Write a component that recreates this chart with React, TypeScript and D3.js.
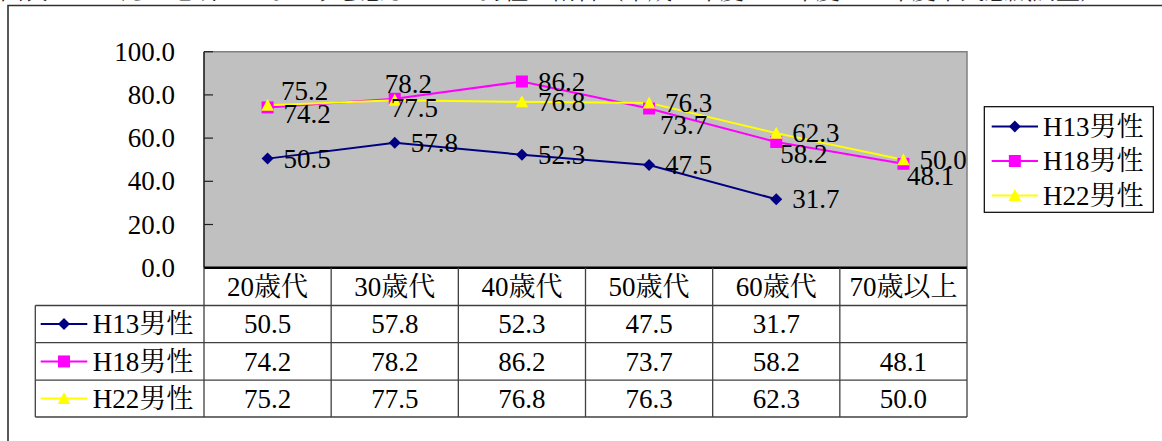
import React from "react";
import * as d3 from "d3";

// Age groups and survey results (% of men)
const categories = ["20歳代", "30歳代", "40歳代", "50歳代", "60歳代", "70歳以上"];
const seriesNames = ["H13男性", "H18男性", "H22男性"];
const h13Values: (number | null)[] = [50.5, 57.8, 52.3, 47.5, 31.7, null];
const h18Values: (number | null)[] = [74.2, 78.2, 86.2, 73.7, 58.2, 48.1];
const h22Values: (number | null)[] = [75.2, 77.5, 76.8, 76.3, 62.3, 50.0];
const yTickValues = [0, 20, 40, 60, 80, 100];
const titleText = "図表７　ふだん地域のつながりを感じている男性の割合（平成13年度・18年度・22年度市民意識調査）";

// Per-point label nudges [dx, dy] where labels would collide
const h13LabelOffsets = [[16, 0], [16, 0], [16, 0], [16, 0], [16, 0], [16, 0]];
const h18LabelOffsets = [[16, 6.5], [-10, -14.5], [16, 0], [11, 16], [4, 12], [3.6, 12]];
const h22LabelOffsets = [[13.5, -14], [-4, 8], [16, 0], [16, 0], [16, 0], [16, 0]];

const W = 1162;
const H = 441;
const plot = { left: 204, right: 967, top: 51.7, bottom: 267.7 };
const table = { left: 35.3, headerTop: 267.7, rowTops: [305.5, 342.7, 380.2], bottom: 417 };
const FONT = '"Liberation Serif", "Noto Serif CJK JP", "Noto Sans CJK JP", serif';
const FS = 27;
const txt: React.CSSProperties = { fontFamily: FONT, fontSize: FS };

type MarkerKind = "diamond" | "square" | "triangle";
const series = [
  { name: seriesNames[0], values: h13Values, offsets: h13LabelOffsets, color: "#000080", marker: "diamond" as MarkerKind },
  { name: seriesNames[1], values: h18Values, offsets: h18LabelOffsets, color: "#FF00FF", marker: "square" as MarkerKind },
  { name: seriesNames[2], values: h22Values, offsets: h22LabelOffsets, color: "#FFFF00", marker: "triangle" as MarkerKind },
];

function markerPath(kind: MarkerKind): string {
  if (kind === "diamond") return "M0,-6L6,0L0,6L-6,0Z";
  if (kind === "square") return "M-6,-6H6V6H-6Z";
  return "M0,-6.5L6.3,5.5H-6.3Z";
}

function Marker({ kind, color, x, y }: { kind: MarkerKind; color: string; x: number; y: number }) {
  return <path d={markerPath(kind)} transform={`translate(${x},${y})`} fill={color} stroke="none" />;
}

function LegendKey({ s, x0, x1, y }: { s: (typeof series)[number]; x0: number; x1: number; y: number }) {
  return (
    <g>
      <line x1={x0} x2={x1} y1={y} y2={y} stroke={s.color} strokeWidth={2} />
      <Marker kind={s.marker} color={s.color} x={(x0 + x1) / 2} y={y} />
    </g>
  );
}

export default function App() {
  const x = d3.scaleBand<string>().domain(categories).range([plot.left, plot.right]).padding(0);
  const y = d3.scaleLinear().domain([0, 100]).range([plot.bottom, plot.top]);
  const cx = (c: string) => (x(c) ?? 0) + x.bandwidth() / 2;
  const fmt = d3.format(".1f");

  const line = d3
    .line<number | null>()
    .defined((d) => d != null)
    .x((_, i) => cx(categories[i]))
    .y((d) => y(d as number));

  const rowEdges = [...table.rowTops, table.bottom];
  const gridColor = "#404040";

  return (
    <svg width={W} height={H} viewBox={`0 0 ${W} ${H}`} style={{ position: "absolute", left: 0, top: 0, background: "#fff" }}>
      {/* cut-off heading */}
      <text x={0} y={-1} style={{ fontFamily: FONT, fontSize: 24 }} fill="#222">{titleText}</text>

      {/* outer frame */}
      <path d={`M8,${H + 2}V5.5H${W + 2}`} fill="none" stroke="#303030" strokeWidth={1.6} />

      {/* plot area */}
      <rect x={plot.left} y={plot.top} width={plot.right - plot.left} height={plot.bottom - plot.top} fill="#C0C0C0" />
      <path d={`M${plot.left},${plot.top}H${plot.right}V${plot.bottom}`} fill="none" stroke="#808080" strokeWidth={1.5} />
      <line x1={plot.left} x2={plot.left} y1={plot.top} y2={plot.bottom} stroke="#202020" strokeWidth={1.6} />

      {/* y axis ticks and labels */}
      {yTickValues.map((t) => (
        <g key={t}>
          <line x1={plot.left} x2={plot.left + 9} y1={y(t)} y2={y(t)} stroke="#202020" strokeWidth={1.2} />
          <text x={175} y={y(t)} dy="0.34em" textAnchor="end" fill="#000" style={txt}>
            {fmt(t)}
          </text>
        </g>
      ))}

      {/* series lines */}
      {series.map((s) => (
        <path key={s.name} d={line(s.values) ?? ""} fill="none" stroke={s.color} strokeWidth={2} />
      ))}
      {/* markers */}
      {series.map((s) =>
        s.values.map((v, i) =>
          v == null ? null : <Marker key={`${s.name}-${i}`} kind={s.marker} color={s.color} x={cx(categories[i])} y={y(v)} />
        )
      )}
      {/* value labels */}
      {series.map((s) =>
        s.values.map((v, i) =>
          v == null ? null : (
            <text
              key={`lbl-${s.name}-${i}`}
              x={cx(categories[i]) + s.offsets[i][0]}
              y={y(v) + s.offsets[i][1]}
              dy="0.34em"
              fill="#000"
              style={txt}
            >
              {fmt(v)}
            </text>
          )
        )
      )}

      {/* bottom axis */}
      <line x1={plot.left} x2={plot.right} y1={plot.bottom} y2={plot.bottom} stroke="#000" strokeWidth={2.4} />

      {/* data table */}
      <g stroke={gridColor} strokeWidth={1.3} fill="none">
        {rowEdges.map((ry, i) => (
          <line key={`h${i}`} x1={table.left} x2={plot.right} y1={ry} y2={ry} />
        ))}
        <line x1={table.left} x2={table.left} y1={table.rowTops[0]} y2={table.bottom} />
        {categories.map((c) => (
          <line key={`v${c}`} x1={x(c) ?? 0} x2={x(c) ?? 0} y1={table.headerTop} y2={table.bottom} />
        ))}
        <line x1={plot.right} x2={plot.right} y1={table.headerTop} y2={table.bottom} />
      </g>
      {categories.map((c) => (
        <text key={`hd${c}`} x={cx(c)} y={(table.headerTop + table.rowTops[0]) / 2} dy="0.34em" textAnchor="middle" fill="#000" style={txt}>
          {c}
        </text>
      ))}
      {series.map((s, r) => {
        const top = rowEdges[r];
        const mid = (top + rowEdges[r + 1]) / 2;
        return (
          <g key={`row-${s.name}`}>
            <LegendKey s={s} x0={40.7} x1={87.3} y={mid} />
            <text x={92.7} y={mid} dy="0.34em" fill="#000" style={txt}>{s.name}</text>
            {s.values.map((v, i) =>
              v == null ? null : (
                <text key={i} x={cx(categories[i])} y={mid} dy="0.34em" textAnchor="middle" fill="#000" style={txt}>
                  {fmt(v)}
                </text>
              )
            )}
          </g>
        );
      })}

      {/* legend */}
      <rect x={984.3} y={106.7} width={169} height={105.6} fill="#fff" stroke="#000" strokeWidth={1.2} />
      {series.map((s, i) => {
        const ly = 126.5 + i * 34.5;
        return (
          <g key={`lg-${s.name}`}>
            <LegendKey s={s} x0={991.7} x1={1038} y={ly} />
            <text x={1043} y={ly} dy="0.34em" fill="#000" style={txt}>{s.name}</text>
          </g>
        );
      })}
    </svg>
  );
}
